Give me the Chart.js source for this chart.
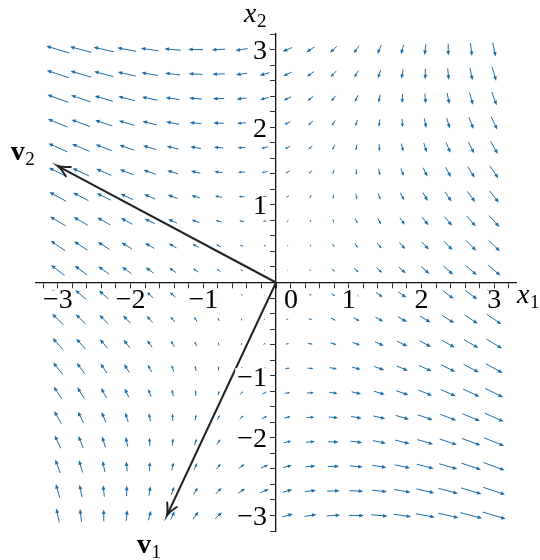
<!DOCTYPE html>
<html>
<head>
<meta charset="utf-8">
<script src="https://cdn.jsdelivr.net/npm/chart.js@4.4.0/dist/chart.umd.min.js"></script>
<style>
  html, body { margin: 0; padding: 0; background: #fff; }
  #wrap { width: 540px; height: 560px; }
</style>
</head>
<body>
<div id="wrap"><canvas id="phaseChart"></canvas></div>
<script>
// sample points of the direction field (same list for x1 and x2)
const gridValues = [-3, -2.6842, -2.3684, -2.0526, -1.7368, -1.4211, -1.1053, -0.7895, -0.4737, -0.1579,
                    0.1579, 0.4737, 0.7895, 1.1053, 1.4211, 1.7368, 2.0526, 2.3684, 2.6842, 3];
// x' = A x, entries read from the arrow directions
const systemMatrix = [[1.8, -1.4], [-1.45, -0.5]];
// eigenvector tips
const v1Tip = [-1.5, -3];
const v2Tip = [-3, 1.5];
// axis ticks and labelled ticks
const axisTicks = [-3.2, -3, -2.8, -2.6, -2.4, -2.2, -2, -1.8, -1.6, -1.4, -1.2, -1, -0.8, -0.6, -0.4, -0.2, 0,
                   0.2, 0.4, 0.6, 0.8, 1, 1.2, 1.4, 1.6, 1.8, 2, 2.2, 2.4, 2.6, 2.8, 3, 3.2];
const xTickLabels = [-3, -2, -1, 1, 2, 3];
const yTickLabels = [-3, -2, -1, 1, 2, 3];

const fieldColor = '#1d6ea6';
const vecColor = '#222222';
const serif = '"Liberation Serif", serif';

// build the field points
let fieldPoints = [];
gridValues.forEach(y => {
  gridValues.forEach(x => {
    fieldPoints.push({
      x: x, y: y,
      u: systemMatrix[0][0] * x + systemMatrix[0][1] * y,
      v: systemMatrix[1][0] * x + systemMatrix[1][1] * y
    });
  });
});

// draws the little arrows of the direction field, pivot in the middle
const quiverPlugin = {
  id: 'quiver',
  afterDatasetDraw(chart, args) {
    const ds = chart.data.datasets[args.index];
    if (!ds.quiver) return;
    const ctx = chart.ctx;
    ctx.save();
    ctx.strokeStyle = ds.borderColor;
    ctx.fillStyle = ds.borderColor;
    ctx.lineWidth = 1.0;
    args.meta.data.forEach((pt, i) => {
      const d = ds.data[i];
      const dx = d.u * ds.arrowScale, dy = -d.v * ds.arrowScale;
      const len = Math.hypot(dx, dy);
      if (len < 0.4) return;
      const ux = dx / len, uy = dy / len;
      const x0 = pt.x - dx / 2, y0 = pt.y - dy / 2;
      const x1 = pt.x + dx / 2, y1 = pt.y + dy / 2;
      const hl = Math.min(4.5, len * 0.45), hw = hl * 0.42;
      ctx.beginPath();
      ctx.moveTo(x0, y0);
      ctx.lineTo(x1 - ux * hl * 0.7, y1 - uy * hl * 0.7);
      ctx.stroke();
      ctx.beginPath();
      ctx.moveTo(x1, y1);
      ctx.lineTo(x1 - ux * hl - uy * hw, y1 - uy * hl + ux * hw);
      ctx.lineTo(x1 - ux * hl + uy * hw, y1 - uy * hl - ux * hw);
      ctx.closePath();
      ctx.fill();
    });
    ctx.restore();
  }
};

// open arrow heads on the eigenvector lines
const headPlugin = {
  id: 'heads',
  afterDatasetsDraw(chart) {
    const ctx = chart.ctx;
    chart.data.datasets.forEach((ds, di) => {
      if (!ds.arrowHead) return;
      const pts = chart.getDatasetMeta(di).data;
      const a = pts[pts.length - 2], b = pts[pts.length - 1];
      const ang = Math.atan2(b.y - a.y, b.x - a.x);
      const hl = 13, spread = 0.42;
      ctx.save();
      ctx.strokeStyle = ds.borderColor;
      ctx.lineWidth = 2;
      ctx.lineCap = 'round';
      ctx.beginPath();
      ctx.moveTo(b.x - hl * Math.cos(ang - spread), b.y - hl * Math.sin(ang - spread));
      ctx.quadraticCurveTo(b.x - 4 * Math.cos(ang - 0.15), b.y - 4 * Math.sin(ang - 0.15), b.x, b.y);
      ctx.quadraticCurveTo(b.x - 4 * Math.cos(ang + 0.15), b.y - 4 * Math.sin(ang + 0.15),
                           b.x - hl * Math.cos(ang + spread), b.y - hl * Math.sin(ang + spread));
      ctx.stroke();
      ctx.restore();
    });
  }
};

function minusText(v) {
  return v < 0 ? '\u2212' + Math.abs(v) : String(v);
}

function labelWithBox(ctx, text, x, y, align) {
  ctx.textAlign = align;
  ctx.textBaseline = 'middle';
  const w = ctx.measureText(text).width;
  let left = align === 'right' ? x - w : (align === 'center' ? x - w / 2 : x);
  ctx.fillStyle = '#fff';
  ctx.fillRect(left - 2, y - 10, w + 4, 20);
  ctx.fillStyle = '#000';
  ctx.fillText(text, x, y);
}

function subText(ctx, main, sub, x, y, mainFont, subFont) {
  ctx.textAlign = 'left';
  ctx.textBaseline = 'alphabetic';
  ctx.fillStyle = '#000';
  ctx.font = mainFont;
  ctx.fillText(main, x, y);
  const w = ctx.measureText(main).width;
  ctx.font = subFont;
  ctx.fillText(sub, x + w + 0.5, y + 5);
}

// tick labels, axis names and vector names
const labelPlugin = {
  id: 'labels',
  afterDraw(chart) {
    const ctx = chart.ctx;
    const xs = chart.scales.x, ys = chart.scales.y;
    const ox = xs.getPixelForValue(0), oy = ys.getPixelForValue(0);
    ctx.save();
    ctx.font = '28px ' + serif;
    xTickLabels.forEach(v => labelWithBox(ctx, minusText(v), xs.getPixelForValue(v), oy + 18, 'center'));
    // the -1 label sits a little lower, clear of the v1 line
    yTickLabels.forEach(v => labelWithBox(ctx, minusText(v), ox - 9,
      ys.getPixelForValue(v) + (v === -1 ? 18 : 2), 'right'));
    labelWithBox(ctx, '0', ox + 15, oy + 18, 'center');

    subText(ctx, 'x', '2', ox - 32, 22, 'italic 28px ' + serif, '19px ' + serif);
    subText(ctx, 'x', '1', xs.right + 1, oy + 20, 'italic 28px ' + serif, '19px ' + serif);

    const v2x = xs.getPixelForValue(v2Tip[0]), v2y = ys.getPixelForValue(v2Tip[1]);
    subText(ctx, 'v', '2', v2x - 47, v2y - 6, 'bold 28px ' + serif, '19px ' + serif);
    const v1x = xs.getPixelForValue(v1Tip[0]), v1y = ys.getPixelForValue(v1Tip[1]);
    subText(ctx, 'v', '1', v1x - 30, v1y + 38, 'bold 28px ' + serif, '19px ' + serif);
    ctx.restore();
  }
};

function axisOptions(where) {
  return {
    type: 'linear',
    position: where,
    min: -3.3,
    max: 3.3,
    z: 1,
    afterBuildTicks: scale => { scale.ticks = axisTicks.map(v => ({ value: v })); },
    border: { display: true, color: '#111', width: 1.3 },
    grid: { drawOnChartArea: false, drawTicks: true, tickLength: 5, color: '#333', tickWidth: 1 },
    ticks: { display: false }
  };
}

const chartEl = document.getElementById('phaseChart');
const phaseChart = new Chart(chartEl, {
  type: 'scatter',
  data: {
    datasets: [
      {
        label: 'field',
        quiver: true,
        arrowScale: 2.4,
        data: fieldPoints,
        borderColor: fieldColor,
        backgroundColor: fieldColor,
        pointRadius: 0,
        pointHoverRadius: 0
      },
      {
        label: 'v1',
        type: 'line',
        arrowHead: true,
        data: [{ x: 0, y: 0 }, { x: v1Tip[0], y: v1Tip[1] }],
        borderColor: vecColor,
        borderWidth: 2,
        pointRadius: 0,
        fill: false
      },
      {
        label: 'v2',
        type: 'line',
        arrowHead: true,
        data: [{ x: 0, y: 0 }, { x: v2Tip[0], y: v2Tip[1] }],
        borderColor: vecColor,
        borderWidth: 2,
        pointRadius: 0,
        fill: false
      }
    ]
  },
  options: {
    responsive: true,
    maintainAspectRatio: false,
    animation: false,
    layout: { padding: { left: 36, right: 24, top: 34, bottom: 29 } },
    plugins: {
      legend: { display: false },
      tooltip: { enabled: false },
      title: { display: false }
    },
    scales: {
      x: axisOptions({ y: 0 }),
      y: Object.assign(axisOptions({ x: 0 }), { min: -3.2, max: 3.2 })
    }
  },
  plugins: [quiverPlugin, headPlugin, labelPlugin]
});
</script>
</body>
</html>
